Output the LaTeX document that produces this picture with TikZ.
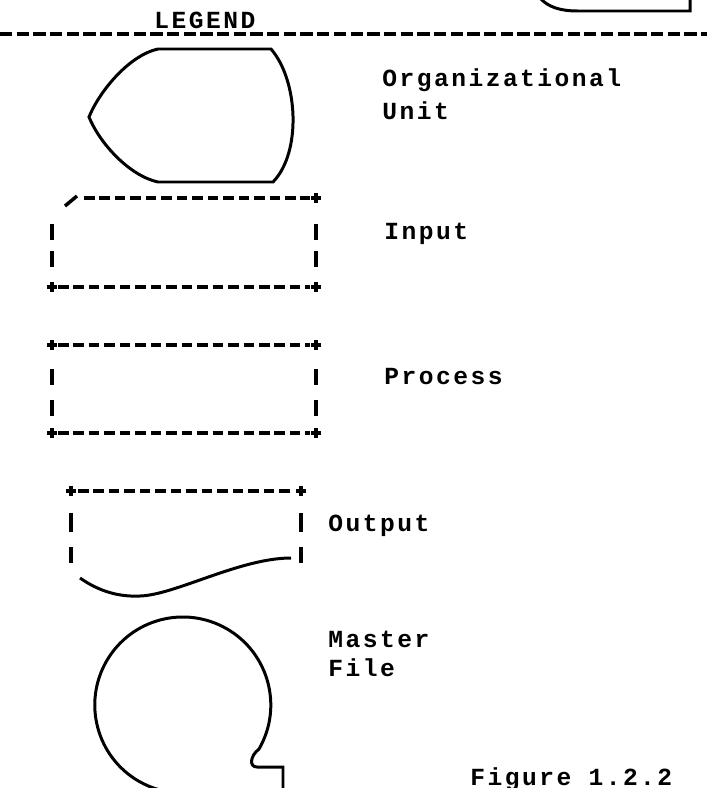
\documentclass[tikz,border=0pt]{standalone}
\usepackage{fontspec}
\setmonofont{Liberation Mono}[LetterSpace=10]

\begin{document}
\begin{tikzpicture}[x=0.02cm,y=-0.02cm,line width=1.7pt,
  rule/.style={line width=2.3pt,dash pattern=on 6pt off 2.8pt},
  legrule/.style={line width=2.3pt,dash pattern=on 7pt off 2.5pt},
  tickmk/.style={line width=2.3pt},
  plusmk/.style={line width=2pt},
  lbl/.style={font=\fontsize{14}{14}\selectfont\ttfamily\bfseries,anchor=base west,inner sep=0pt}]
 \useasboundingbox (0,0) rectangle (707,788);
 \clip (0,0) rectangle (707,788);
 \draw (540,-2) .. controls (548,7) and (560,11) .. (578,11) -- (690,11) -- (690,-2);
 \node[lbl] (legend) at (153,28) {LEGEND};
 \draw[legrule] (0,34) -- (707,34);
 \draw (158,49) -- (271,49) .. controls (298,80) and (302,152) .. (273,182) -- (158,182)
   .. controls (130,176) and (100,144) .. (89,117) .. controls (100,90) and (130,55) .. cycle;
 \node[lbl] (org) at (381,86) {Organizational};
 \node[lbl] (unit) at (381,119) {Unit};
 \draw[plusmk] (65,206) -- (77,196);
 \foreach \y/\top in {198/1,287/0,345/0,433/0}{%
   \draw[rule] ({\top*26+58},\y) -- (310,\y);
 }
 \foreach \x/\y in {316/198,52/287,316/287,52/345,316/345,52/433,316/433,71/491,301/491}{%
   \draw[plusmk] ({\x-5},\y) -- ({\x+5},\y) (\x,{\y-5}) -- (\x,{\y+5});
 }
 \foreach \x in {52,316}{%
   \foreach \y in {224,251,369,400}
     \draw[tickmk] (\x,\y) -- (\x,{\y+16});
 }
 \node[lbl] (input) at (383,239) {Input};
 \node[lbl] (process) at (383,384) {Process};
 \draw[rule] (78,491) -- (294,491);
 \foreach \x in {71,301}{%
   \draw[tickmk] (\x,513) -- (\x,532) (\x,547) -- (\x,563);
 }
 \draw (80,578) .. controls (100,592) and (120,597) .. (140,596)
   .. controls (175,595) and (240,558) .. (291,558);
 \node[lbl] (output) at (327,531) {Output};
 \draw (283,800) -- (283,767) -- (257,767) .. controls (249,767) and (250,756) .. (259,749)
   arc[start angle=30,end angle=-270,radius=88];
 \node[lbl] (master) at (327,647) {Master};
 \node[lbl] (file) at (327,676) {File};
 \node[lbl] (fig) at (469,785) {Figure 1.2.2};
\end{tikzpicture}
\end{document}
